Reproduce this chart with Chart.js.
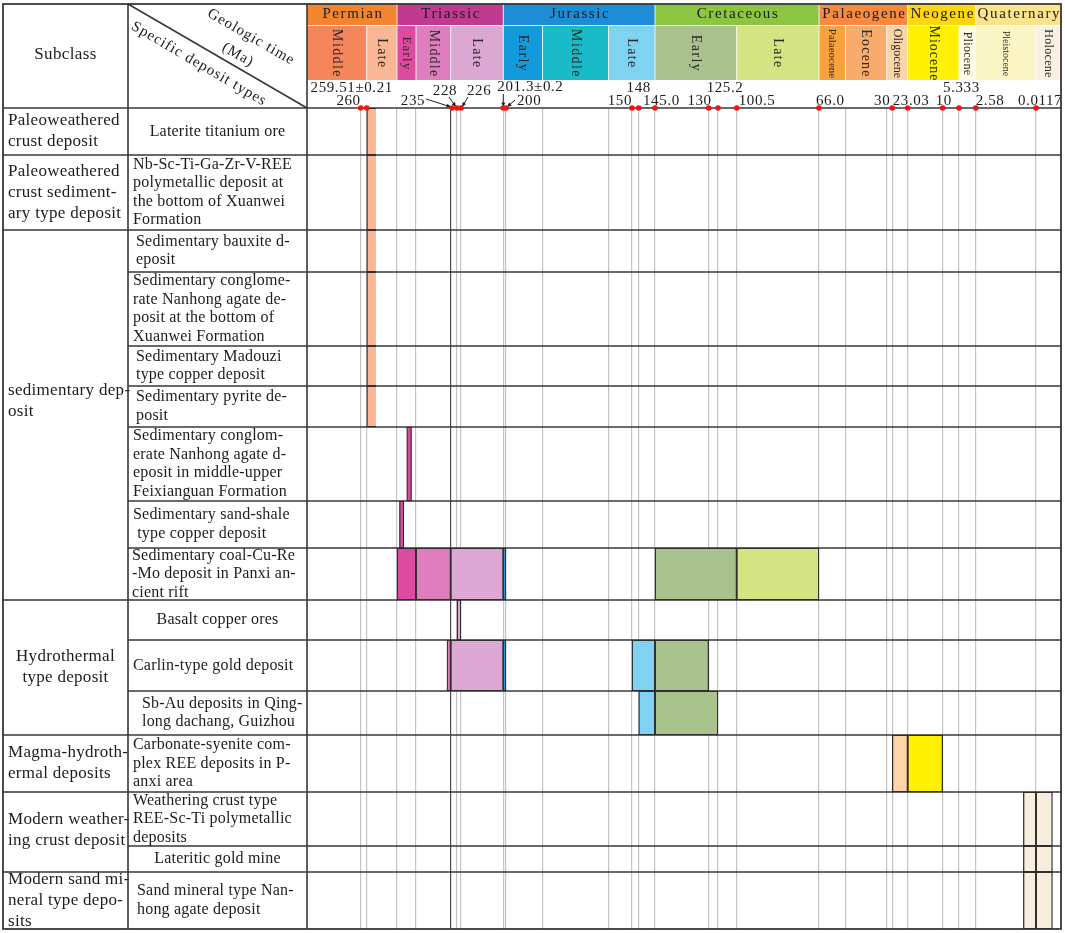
<!DOCTYPE html>
<html>
<head>
<meta charset="utf-8">
<script src="https://cdn.jsdelivr.net/npm/chart.js@4.4.1/dist/chart.umd.min.js"></script>
<style>
  html, body { margin: 0; padding: 0; background: #fff; }
  canvas { display: block; }
</style>
</head>
<body>
<canvas id="geoChart" width="1065" height="933"></canvas>
<script>
// ---- data ----
const periods = ['Permian', 'Triassic', 'Jurassic', 'Cretaceous', 'Palaeogene', 'Neogene', 'Quaternary'];
const periodStart = [272.95, 251.9, 201.3, 145.0, 66.0, 23.03, 2.58];

const epochs = ['Middle', 'Late', 'Early', 'Middle', 'Late', 'Early', 'Middle', 'Late', 'Early', 'Late',
  'Palaeocene', 'Eocene', 'Oligocene', 'Miocene', 'Pliocene', 'Pleistocene', 'Holocene'];
const epochStart = [272.95, 259.51, 251.9, 247.2, 237, 201.3, 174.1, 163.5, 145.0, 100.5,
  66.0, 56.0, 33.9, 23.03, 5.333, 2.58, 0.0117];

const tickAges = [260, 259.51, 235, 228, 226, 201.3, 200, 150, 148, 145.0, 130, 125.2, 100.5, 66.0, 30, 23.03, 10, 5.333, 2.58, 0.0117];
const tickLabels = ['260', '259.51±0.21', '235', '228', '226', '201.3±0.2', '200', '150', '148', '145.0', '130', '125.2',
  '100.5', '66.0', '30', '23.03', '10', '5.333', '2.58', '0.0117'];

const subclasses = [
  ['Paleoweathered', 'crust deposit'],
  ['Paleoweathered', 'crust sediment-', 'ary type deposit'],
  ['sedimentary dep-', 'osit'],
  ['Hydrothermal', 'type deposit'],
  ['Magma-hydroth-', 'ermal deposits'],
  ['Modern weather-', 'ing crust deposit'],
  ['Modern sand mi-', 'neral type depo-', 'sits'],
];
const subclassFirstRow = [0, 1, 2, 9, 12, 13, 15];
const subclassRowCount = [1, 1, 7, 3, 1, 2, 1];

const depositTypes = [
  ['Laterite titanium ore'],
  ['Nb-Sc-Ti-Ga-Zr-V-REE', 'polymetallic deposit at', 'the bottom of Xuanwei', 'Formation'],
  ['Sedimentary bauxite d-', 'eposit'],
  ['Sedimentary conglome-', 'rate Nanhong agate de-', 'posit at the bottom of', 'Xuanwei Formation'],
  ['Sedimentary Madouzi', 'type copper deposit'],
  ['Sedimentary pyrite de-', 'posit'],
  ['Sedimentary conglom-', 'erate Nanhong agate d-', 'eposit in middle-upper', 'Feixianguan Formation'],
  ['Sedimentary sand-shale', ' type copper deposit'],
  ['Sedimentary coal-Cu-Re', '-Mo deposit in Panxi an-', 'cient rift'],
  ['Basalt copper ores'],
  ['Carlin-type gold deposit'],
  ['Sb-Au deposits in Qing-', 'long dachang, Guizhou'],
  ['Carbonate-syenite com-', 'plex REE deposits in P-', 'anxi area'],
  ['Weathering crust type', 'REE-Sc-Ti polymetallic', 'deposits'],
  ['Lateritic gold mine'],
  ['Sand mineral type Nan-', 'hong agate deposit'],
];

// metallogenic time spans (Ma), one entry per coloured segment
const barRow  = [0, 1, 2, 3, 4, 5, 6, 7, 8, 8, 8, 8, 8, 8, 9, 10, 10, 10, 10, 10, 11, 11, 12, 12, 13, 13, 14, 14, 15, 15];
const barFrom = [259.51, 259.51, 259.51, 259.51, 259.51, 259.51, 249.5, 251.3,
  251.9, 247.2, 237, 201.3, 145.0, 100.5,
  228,
  238.1, 237, 201.3, 150, 145.0,
  148, 145.0,
  30, 23.03,
  0.55, 0.0117, 0.55, 0.0117, 0.55, 0.0117];
const barTo   = [257.2, 257.2, 257.2, 257.2, 257.2, 257.2, 248.3, 250.2,
  247.2, 237, 201.3, 200, 100.5, 66.0,
  226,
  237, 201.3, 200, 145.0, 130,
  145.0, 125.2,
  23.03, 10,
  0.0117, 0.004, 0.0117, 0.004, 0.0117, 0.004];

// ---- layout / style ----
// hand-drawn time axis: age anchors and their offsets (px) across the 754 px wide time area
const AXIS_AGES    = [272.95, 260, 259.51, 251.9, 247.2, 237, 228, 226, 201.3, 200, 174.1, 163.5, 150, 148, 145, 130, 125.2, 100.5, 66, 56, 33.9, 30, 23.03, 10, 5.333, 2.58, 0.0117, 0];
const AXIS_OFFSETS = [0, 53.7, 59.7, 90, 109, 143.7, 150, 154, 196.3, 199, 235.5, 301.5, 325, 331.7, 348, 401.7, 411, 429.7, 512, 538.5, 579.7, 585.3, 600.7, 635.7, 652, 668.7, 729, 754];
const AXIS_WIDTH = 754;

const ROW_H = [47, 75, 42, 74, 40, 41, 74, 47, 52, 40, 51, 44, 57, 54, 26, 57];
const ROW_OFFSETS = ROW_H.reduce((acc, h) => { acc.push(acc[acc.length - 1] + h); return acc; }, [0]);
const BODY_H = ROW_OFFSETS[ROW_OFFSETS.length - 1];

const PERIOD_FILL = ['#F4852F', '#C03B90', '#1D8ED5', '#8CC541', '#F68A3E', '#FFD70F', '#FBE48B'];
const EPOCH_FILL = ['#F5865C', '#FBB695', '#DC4B9F', '#E07EBD', '#DCA8D3', '#129ADC', '#1ABBC8', '#80D2F2',
  '#A8C18D', '#D4E482', '#F9A13C', '#F9AB6C', '#FDD4A8', '#FFF100', '#FFFBE4', '#FBF5C6', '#F9F2E4'];
const BAR_FILL = EPOCH_FILL.slice();
BAR_FILL[15] = '#F7EEDE';
BAR_FILL[16] = '#F7EEDE';
const EPOCH_FONT = [14, 14, 13, 14, 14, 14, 14, 14, 14, 14, 11, 14, 12, 14, 12, 10, 12];
const EPOCH_SPACING = [1.4, 1.4, 1.2, 1.2, 1.4, 1.4, 1.4, 1.4, 1.4, 1.4, 0, 1.2, 0, 1, 0.3, 0, 0.3];

// [dx from tick, y, align, arrow start (dx, y) or null]
const LABEL_LAYOUT = [
  [0, 101, 'right', null], [-15, 88, 'center', null], [-27, 101, 'right', [-26, 99]],
  [-12, 91, 'center', [-8, 97]], [6, 91, 'left', [7, 97]], [-6, 87, 'left', [0, 94]],
  [11, 101, 'left', [9, 100]], [0, 101, 'right', null], [0, 88, 'center', null],
  [-12, 101, 'left', null], [3, 101, 'right', null], [7, 88, 'center', null],
  [2, 101, 'left', null], [-3, 101, 'left', null], [-2, 101, 'right', null],
  [-15, 101, 'left', null], [-7, 101, 'left', null], [-16, 88, 'left', null],
  [0, 101, 'left', null], [-18, 101, 'left', null],
];
const DEPOSIT_ALIGN = ['center', 'left', 'left', 'left', 'left', 'left', 'left', 'left', 'left', 'center', 'left', 'left', 'left', 'left', 'center', 'left'];
const DEPOSIT_INDENT = [0, 0, 3, 0, 3, 3, 0, 0, -1, 0, 0, 9, 0, 0, 0, 4];
const SUBCLASS_ALIGN = ['left', 'left', 'left', 'center', 'left', 'left', 'left'];
const SUBCLASS_DY = [0, 0, -14, 0, 0, -2, 0];

const SERIF = "'Liberation Serif', 'Times New Roman', serif";
const INK = '#1c1c1c';
const RULE = '#383838';
const TABLE_LEFT = 3, TABLE_TOP = 4, COL2_X = 128;
const PERIOD_BOTTOM = 25, EPOCH_BOTTOM = 80;

function ageFraction(age) {
  if (age >= AXIS_AGES[0]) return 0;
  for (let i = 0; i < AXIS_AGES.length - 1; i++) {
    const a = AXIS_AGES[i], b = AXIS_AGES[i + 1];
    if (age <= a && age >= b) {
      const t = (a - age) / (a - b);
      return (AXIS_OFFSETS[i] + t * (AXIS_OFFSETS[i + 1] - AXIS_OFFSETS[i])) / AXIS_WIDTH;
    }
  }
  return 1;
}

function fractionAge(f) {
  const off = f * AXIS_WIDTH;
  for (let i = 0; i < AXIS_OFFSETS.length - 1; i++) {
    if (off >= AXIS_OFFSETS[i] && off <= AXIS_OFFSETS[i + 1]) {
      const t = (off - AXIS_OFFSETS[i]) / (AXIS_OFFSETS[i + 1] - AXIS_OFFSETS[i]);
      return AXIS_AGES[i] - t * (AXIS_AGES[i] - AXIS_AGES[i + 1]);
    }
  }
  return off < 0 ? AXIS_AGES[0] : 0;
}

// piecewise geologic time scale (older on the left)
class GeoTimeScale extends Chart.LinearScale {
  getPixelForValue(value) {
    return this.left + ageFraction(value) * this.width;
  }
  getValueForPixel(pixel) {
    return fractionAge((pixel - this.left) / this.width);
  }
}
GeoTimeScale.id = 'geotime';
GeoTimeScale.defaults = Chart.LinearScale.defaults;
Chart.register(GeoTimeScale);

function epochIndexOf(from, to) {
  const mid = (from + to) / 2;
  for (let i = epochStart.length - 1; i >= 0; i--) {
    if (mid <= epochStart[i]) return i;
  }
  return 0;
}

const gridAges = Array.from(new Set(epochStart.slice(1).concat(tickAges.filter((a) => a !== 235)))).sort((a, b) => b - a);

function drawText(ctx, s, x, y, size, align, spacing) {
  ctx.font = `${size}px ${SERIF}`;
  ctx.textAlign = align;
  ctx.textBaseline = 'middle';
  ctx.letterSpacing = `${spacing || 0}px`;
  ctx.fillText(s, x, y);
}

function arrow(ctx, x1, y1, x2, y2) {
  const ang = Math.atan2(y2 - y1, x2 - x1);
  ctx.beginPath();
  ctx.moveTo(x1, y1);
  ctx.lineTo(x2, y2);
  ctx.stroke();
  ctx.beginPath();
  ctx.moveTo(x2, y2);
  ctx.lineTo(x2 - 5 * Math.cos(ang - 0.4), y2 - 5 * Math.sin(ang - 0.4));
  ctx.lineTo(x2 - 5 * Math.cos(ang + 0.4), y2 - 5 * Math.sin(ang + 0.4));
  ctx.closePath();
  ctx.fill();
}

const tablePlugin = {
  id: 'geoTable',
  beforeDraw(chart) {
    const { ctx, width, height } = chart;
    ctx.save();
    ctx.fillStyle = '#ffffff';
    ctx.fillRect(0, 0, width, height);
    ctx.restore();
  },
  beforeDatasetsDraw(chart) {
    const { ctx, chartArea: ca, scales: { x, y } } = chart;
    const rowY = (r) => y.getPixelForValue(ROW_OFFSETS[r]);
    ctx.save();

    // period and epoch header cells
    periods.forEach((name, i) => {
      const a = x.getPixelForValue(periodStart[i]);
      const b = x.getPixelForValue(i + 1 < periods.length ? periodStart[i + 1] : 0);
      ctx.fillStyle = PERIOD_FILL[i];
      ctx.fillRect(a, TABLE_TOP, b - a, PERIOD_BOTTOM - TABLE_TOP);
      ctx.fillStyle = INK;
      drawText(ctx, name, (a + b) / 2 + 1, 14.5, 15, 'center', 1.6);
    });
    epochs.forEach((name, i) => {
      const a = x.getPixelForValue(epochStart[i]);
      const b = x.getPixelForValue(i + 1 < epochs.length ? epochStart[i + 1] : 0);
      ctx.fillStyle = EPOCH_FILL[i];
      ctx.fillRect(a, PERIOD_BOTTOM, b - a, EPOCH_BOTTOM - PERIOD_BOTTOM);
      ctx.save();
      ctx.translate((a + b) / 2, (PERIOD_BOTTOM + EPOCH_BOTTOM) / 2 + 1);
      ctx.rotate(Math.PI / 2);
      ctx.fillStyle = '#2a2a2a';
      drawText(ctx, name, 0, 0, EPOCH_FONT[i], 'center', EPOCH_SPACING[i]);
      ctx.restore();
    });
    ctx.strokeStyle = 'rgba(255,255,255,0.85)';
    ctx.lineWidth = 1;
    ctx.beginPath();
    ctx.moveTo(ca.left, PERIOD_BOTTOM + 0.5);
    ctx.lineTo(ca.right, PERIOD_BOTTOM + 0.5);
    periodStart.slice(1).forEach((a) => {
      const px = x.getPixelForValue(a);
      ctx.moveTo(px, TABLE_TOP); ctx.lineTo(px, PERIOD_BOTTOM);
    });
    epochStart.slice(1).forEach((a) => {
      const px = x.getPixelForValue(a);
      ctx.moveTo(px, PERIOD_BOTTOM); ctx.lineTo(px, EPOCH_BOTTOM);
    });
    ctx.stroke();

    // age labels with pointer arrows
    ctx.fillStyle = INK;
    ctx.strokeStyle = INK;
    ctx.lineWidth = 1;
    tickAges.forEach((age, i) => {
      const px = x.getPixelForValue(age);
      const [dx, ly, align, arr] = LABEL_LAYOUT[i];
      drawText(ctx, tickLabels[i], px + dx, ly, 15, align, 0.6);
      if (arr) arrow(ctx, px + arr[0], arr[1], px + (arr[0] === 0 ? 0 : arr[0] < 0 ? -1 : 1), ca.top - 1);
    });

    // left header
    drawText(ctx, 'Subclass', (TABLE_LEFT + COL2_X) / 2, 55, 17, 'center', 0.4);
    const ang = Math.atan2(ca.top - TABLE_TOP, ca.left - COL2_X);
    [['Geologic time', 251, 37], ['(Ma)', 238, 55], ['Specific deposit types', 199, 64]].forEach(([s, cx, cy]) => {
      ctx.save();
      ctx.translate(cx, cy);
      ctx.rotate(ang);
      drawText(ctx, s, 0, 0, 15, 'center', 1);
      ctx.restore();
    });

    // subclass column
    subclasses.forEach((lines, g) => {
      const top = rowY(subclassFirstRow[g]);
      const bottom = rowY(subclassFirstRow[g] + subclassRowCount[g]);
      const lh = 21;
      const y0 = (top + bottom) / 2 - ((lines.length - 1) * lh) / 2 + SUBCLASS_DY[g];
      const center = SUBCLASS_ALIGN[g] === 'center';
      lines.forEach((s, k) => {
        drawText(ctx, s, center ? (TABLE_LEFT + COL2_X) / 2 : TABLE_LEFT + 5, y0 + k * lh, 17, center ? 'center' : 'left', 0.3);
      });
    });

    // specific deposit types column
    depositTypes.forEach((lines, r) => {
      const top = rowY(r), bottom = rowY(r + 1);
      const lh = 18.5;
      const y0 = (top + bottom) / 2 - ((lines.length - 1) * lh) / 2;
      const center = DEPOSIT_ALIGN[r] === 'center';
      lines.forEach((s, k) => {
        drawText(ctx, s, center ? (COL2_X + ca.left) / 2 : COL2_X + 5 + DEPOSIT_INDENT[r], y0 + k * lh, 16, center ? 'center' : 'left', 0.2);
      });
    });

    // table rules
    ctx.strokeStyle = RULE;
    ctx.lineWidth = 1.6;
    ctx.beginPath();
    ctx.moveTo(COL2_X, TABLE_TOP); ctx.lineTo(COL2_X, ca.bottom);
    ctx.moveTo(ca.left, TABLE_TOP); ctx.lineTo(ca.left, ca.bottom);
    ctx.moveTo(TABLE_LEFT, ca.top); ctx.lineTo(ca.right, ca.top);
    ctx.moveTo(COL2_X, TABLE_TOP); ctx.lineTo(ca.left, ca.top);
    for (let r = 1; r < ROW_H.length; r++) {
      const py = rowY(r);
      const groupEdge = subclassFirstRow.includes(r);
      ctx.moveTo(groupEdge ? TABLE_LEFT : COL2_X, py);
      ctx.lineTo(ca.right, py);
    }
    ctx.stroke();
    ctx.lineWidth = 1.8;
    ctx.strokeRect(TABLE_LEFT, TABLE_TOP, ca.right - TABLE_LEFT, ca.bottom - TABLE_TOP);
    ctx.restore();
  },
};

// one bar dataset per deposit row; each segment coloured by its epoch
const rowDatasets = depositTypes.map((lines, r) => {
  const idx = barRow.map((row, i) => (row === r ? i : -1)).filter((i) => i >= 0);
  const centre = (ROW_OFFSETS[r] + ROW_OFFSETS[r + 1]) / 2;
  return {
    type: 'bar',
    label: lines.join(' ').replace(/- /g, '').replace(/\s+/g, ' ').trim(),
    data: idx.map((i) => ({ x: [barFrom[i], barTo[i]], y: centre })),
    backgroundColor: idx.map((i) => BAR_FILL[epochIndexOf(barFrom[i], barTo[i])]),
    borderColor: '#2e2e2e',
    borderWidth: 1.3,
    borderSkipped: r <= 5 ? 'start' : false,
    barThickness: ROW_H[r],
    grouped: false,
  };
});

const tickDots = {
  type: 'scatter',
  label: 'Age markers',
  data: tickAges.map((a) => ({ x: a, y: 0 })),
  pointRadius: 2.8,
  pointHoverRadius: 4,
  pointBackgroundColor: '#F01414',
  pointBorderWidth: 0,
  clip: false,
};

new Chart(document.getElementById('geoChart'), {
  data: { datasets: [tickDots].concat(rowDatasets) },
  plugins: [tablePlugin],
  options: {
    responsive: false,
    animation: false,
    indexAxis: 'y',
    layout: { padding: { left: 307, top: 108, right: 4, bottom: 4 } },
    plugins: {
      legend: { display: false },
      tooltip: {
        callbacks: {
          label: (ctx) => Array.isArray(ctx.raw.x) ? `${ctx.dataset.label}: ${ctx.raw.x[0]}–${ctx.raw.x[1]} Ma` : `${ctx.raw.x} Ma`,
        },
      },
    },
    scales: {
      x: {
        type: 'geotime',
        min: 0,
        max: 272.95,
        offset: false,
        afterBuildTicks: (axis) => { axis.ticks = gridAges.map((v) => ({ value: v })); },
        ticks: { display: false },
        grid: {
          drawTicks: false,
          offset: false,
          lineWidth: 1.2,
          color: (c) => (c.tick && c.tick.value === 237 ? '#4a4a4a' : '#c4c4c4'),
        },
        border: { display: false },
      },
      y: { type: 'linear', min: 0, max: BODY_H, reverse: true, offset: false, display: false },
    },
  },
});
</script>
</body>
</html>
